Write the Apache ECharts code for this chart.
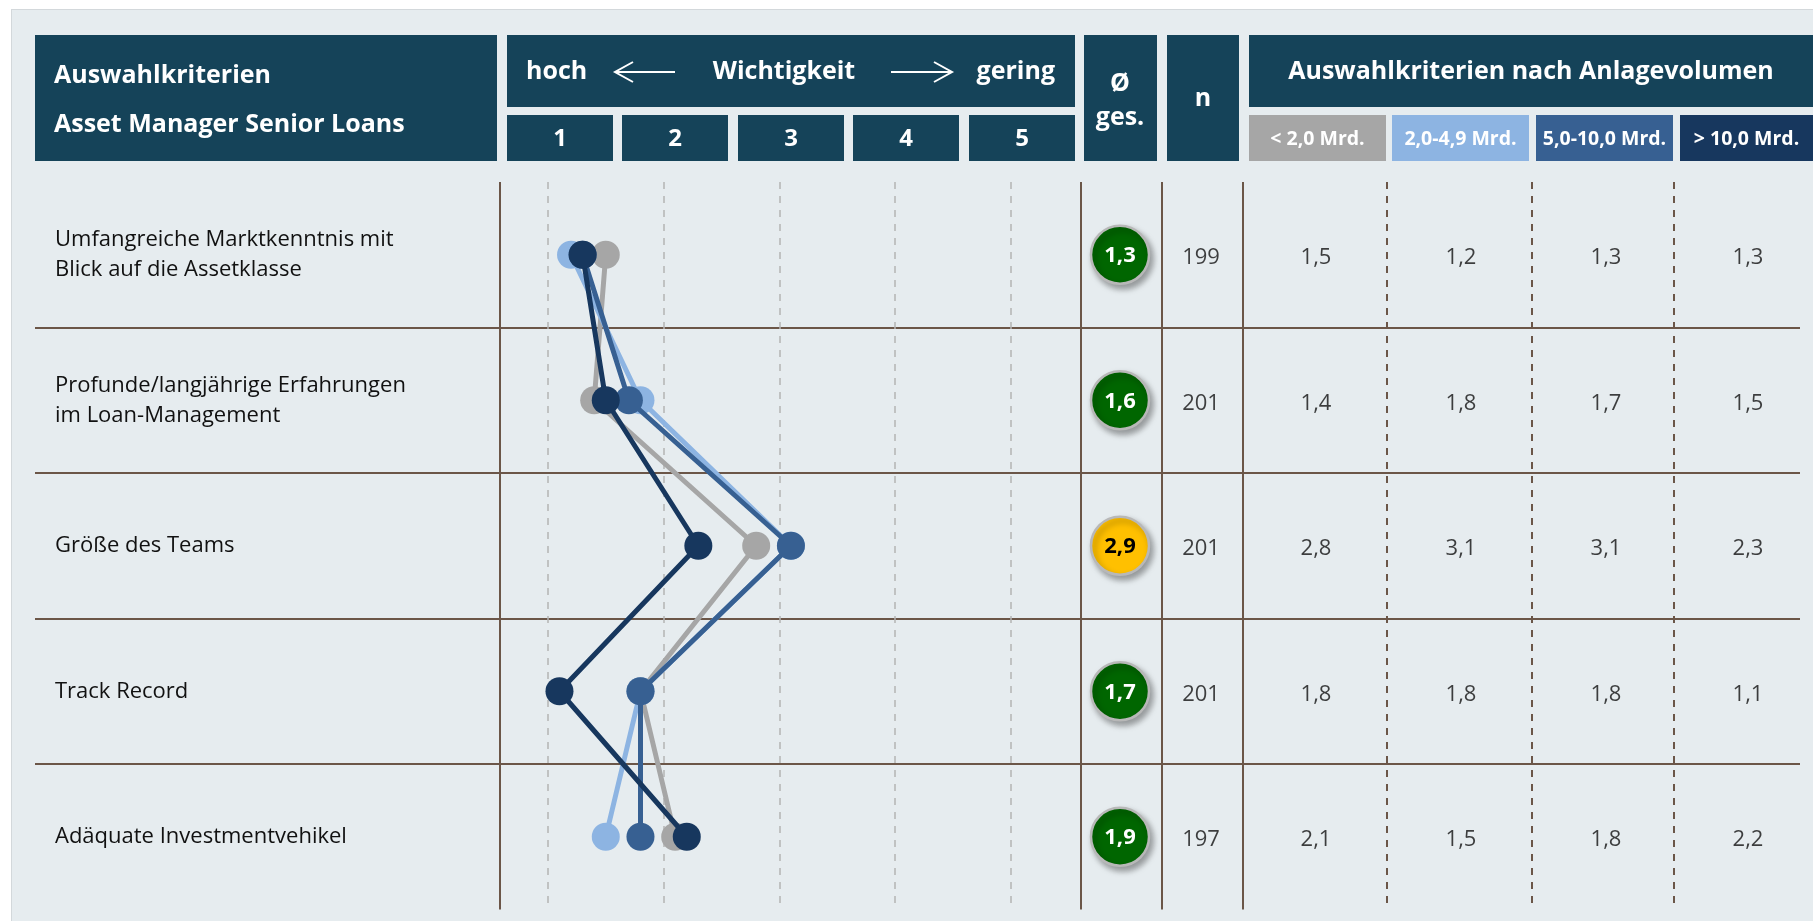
<!DOCTYPE html>
<html>
<head>
<meta charset="utf-8">
<script src="https://cdn.jsdelivr.net/npm/echarts@6/dist/echarts.min.js"></script>
<style>
  html, body { margin: 0; padding: 0; background: #ffffff; }
  .panel {
    position: absolute; left: 11px; top: 9px; right: 0; bottom: 0;
    background: #e6ecef;
    border-left: 1px solid #d3d8db;
    border-top: 1px solid #d3d8db;
  }
  #chart { position: absolute; left: 0; top: 0; width: 1813px; height: 921px; }
</style>
</head>
<body>
<div class="panel"></div>
<div id="chart"></div>
<script>
// Kriterien (Zeilen)
const criteria = [
  "Umfangreiche Marktkenntnis mit\nBlick auf die Assetklasse",
  "Profunde/langjährige Erfahrungen\nim Loan-Management",
  "Größe des Teams",
  "Track Record",
  "Adäquate Investmentvehikel"
];
// Ø gesamt und Anzahl Antworten
const avgTotal = [1.3, 1.6, 2.9, 1.7, 1.9];
const respondents = [199, 201, 201, 201, 197];
// Anlagevolumen-Klassen
const volumeClasses = ["< 2,0 Mrd.", "2,0-4,9 Mrd.", "5,0-10,0 Mrd.", "> 10,0 Mrd."];
const volUnder2 = [1.5, 1.4, 2.8, 1.8, 2.1];
const vol2to49 = [1.2, 1.8, 3.1, 1.8, 1.5];
const vol5to10 = [1.3, 1.7, 3.1, 1.8, 1.8];
const volOver10 = [1.3, 1.5, 2.3, 1.1, 2.2];
// Skala Wichtigkeit
const scaleTicks = ["1", "2", "3", "4", "5"];

const volumeSeries = [volUnder2, vol2to49, vol5to10, volOver10];
const volumeColors = ["#a6a6a6", "#8db4e2", "#376092", "#17375e"];

const HEAD = "#154359";
const BROWN = "#6b5648";
const FONT = "'Open Sans', 'Noto Sans', sans-serif";
const ROW_TOP = 182;
const ROW_BOTTOM = 11.5;
const COL_BADGE = 1120;
const COL_N = 1201;
const COL_VOL = [1316, 1461, 1606, 1748];
const SOLID_LINES = [500, 1081, 1162, 1243];
const DASHED_LINES = [1387, 1532, 1674];

const fmt = v => v.toFixed(1).replace(".", ",");

// Kopfzeile
const rect = (x, y, w, h, fill) => ({ type: "rect", shape: { x, y, width: w, height: h }, style: { fill } });
const text = (x, y, t, opts = {}) => ({
  type: "text", x, y,
  style: {
    text: t, fill: opts.fill || "#ffffff",
    font: `bold ${opts.size || 25}px ${FONT}`,
    textAlign: opts.align || "center", textVerticalAlign: "middle"
  }
});

const headerElements = [
  rect(35, 35, 462, 126, HEAD),
  text(54, 76, "Auswahlkriterien", { align: "left" }),
  text(54, 125, "Asset Manager Senior Loans", { align: "left" }),

  rect(507, 35, 568, 72, HEAD),
  text(526, 72, "hoch", { align: "left" }),
  text(784, 72, "Wichtigkeit"),
  text(1055, 72, "gering", { align: "right" }),
  { type: "line", shape: { x1: 615, y1: 72, x2: 675, y2: 72 }, style: { stroke: "#fff", lineWidth: 2 } },
  { type: "polyline", shape: { points: [[633, 62], [615, 72], [633, 82]] }, style: { stroke: "#fff", lineWidth: 2, fill: null } },
  { type: "line", shape: { x1: 891, y1: 72, x2: 952, y2: 72 }, style: { stroke: "#fff", lineWidth: 2 } },
  { type: "polyline", shape: { points: [[934, 62], [952, 72], [934, 82]] }, style: { stroke: "#fff", lineWidth: 2, fill: null } },

  rect(1084, 35, 73, 126, HEAD),
  text(1120, 84, "Ø"),
  text(1120, 118, "ges."),

  rect(1167, 35, 72, 126, HEAD),
  text(1203, 99, "n"),

  rect(1249, 35, 564, 72, HEAD),
  text(1531, 72, "Auswahlkriterien nach Anlagevolumen")
];

const scaleBoxX = [507, 622, 738, 853, 969];
scaleTicks.forEach((t, i) => {
  headerElements.push(rect(scaleBoxX[i], 115, 106, 46, HEAD));
  headerElements.push(text(scaleBoxX[i] + 53, 139, t, { size: 24 }));
});

const volBoxX = [1249, 1392, 1536, 1680];
const volBoxW = [137, 137, 137, 133];
volumeClasses.forEach((t, i) => {
  headerElements.push(rect(volBoxX[i], 115, volBoxW[i], 46, volumeColors[i]));
  headerElements.push(text(volBoxX[i] + volBoxW[i] / 2, 139, t, { size: 19.5 }));
});

const chart = echarts.init(document.getElementById("chart"));

const tableLines = SOLID_LINES.map(x => ({ xAxis: x, lineStyle: { type: "solid" } }))
  .concat(DASHED_LINES.map(x => ({ xAxis: x, lineStyle: { type: [7, 7] } })));

const textSeries = (x, values, formatter) => ({
  type: "scatter",
  xAxisIndex: 0,
  yAxisIndex: 0,
  symbolSize: 1,
  itemStyle: { color: "rgba(0,0,0,0)" },
  data: values.map((v, i) => [x, i]),
  label: {
    show: true,
    position: "inside",
    offset: [0, 3],
    formatter: p => formatter(values[p.dataIndex]),
    color: "#111111",
    fontSize: 22,
    fontFamily: FONT
  },
  silent: true
});

const option = {
  animation: false,
  backgroundColor: "transparent",
  graphic: { elements: headerElements },
  grid: [
    { left: 35, right: 13, top: ROW_TOP, bottom: ROW_BOTTOM },
    { left: 547.9, right: 802.2, top: ROW_TOP, bottom: ROW_BOTTOM }
  ],
  xAxis: [
    { gridIndex: 0, type: "value", min: 35, max: 1800, show: false },
    {
      gridIndex: 1, type: "value", min: 1, max: 5, interval: 1,
      axisLabel: { show: false }, axisLine: { show: false }, axisTick: { show: false },
      splitLine: { show: true, lineStyle: { color: "#b4b4b4", width: 1.5, type: [7, 7] } }
    }
  ],
  yAxis: [
    {
      gridIndex: 0, type: "category", inverse: true, data: criteria,
      axisLine: { show: false }, axisTick: { show: false },
      axisLabel: {
        interval: 0, align: "left", margin: -20, padding: [6, 0, 0, 0],
        color: "#111111", fontSize: 22, lineHeight: 30, fontFamily: FONT
      },
      splitLine: {
        show: true, interval: 0, showMinLine: false, showMaxLine: false,
        lineStyle: { color: BROWN, width: 2 }
      }
    },
    { gridIndex: 1, type: "category", inverse: true, data: criteria, show: false }
  ],
  series: [
    {
      type: "scatter",
      xAxisIndex: 0,
      yAxisIndex: 0,
      symbolSize: 58,
      z: 5,
      data: avgTotal.map((v, i) => ({
        value: [COL_BADGE, i],
        itemStyle: { color: v < 2 ? "#006600" : "#ffc000" },
        label: { color: v < 2 ? "#ffffff" : "#000000" }
      })),
      itemStyle: {
        opacity: 1,
        borderColor: "#b8b8b8", borderWidth: 2.5,
        shadowBlur: 6, shadowOffsetX: 3, shadowOffsetY: 4, shadowColor: "rgba(0,0,0,0.35)"
      },
      label: {
        show: true, position: "inside", offset: [0, 1],
        formatter: p => fmt(avgTotal[p.dataIndex]),
        fontWeight: "bold", fontSize: 22, fontFamily: FONT
      },
      markLine: {
        silent: true, symbol: "none", label: { show: false },
        lineStyle: { color: BROWN, width: 2 },
        data: tableLines
      }
    },
    textSeries(COL_N, respondents, v => String(v)),
    ...volumeSeries.map((vals, k) => textSeries(COL_VOL[k], vals, fmt)),
    ...volumeSeries.map((vals, k) => ({
      name: volumeClasses[k],
      type: "line",
      xAxisIndex: 1,
      yAxisIndex: 1,
      clip: false,
      symbol: "circle",
      symbolSize: 28,
      z: 3 + k,
      data: vals.map((v, i) => [v, i]),
      lineStyle: { color: volumeColors[k], width: 5 },
      itemStyle: { color: volumeColors[k], opacity: 1 }
    }))
  ]
};

chart.setOption(option);
</script>
</body>
</html>
